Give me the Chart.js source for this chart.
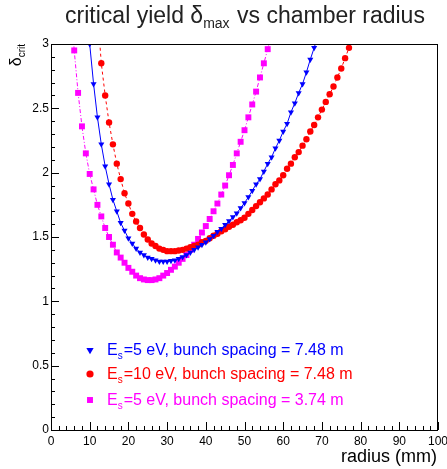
<!DOCTYPE html>
<html>
<head>
<meta charset="utf-8">
<script src="https://cdn.jsdelivr.net/npm/chart.js@4.4.1/dist/chart.umd.min.js"></script>
<style>
    html, body { margin: 0; padding: 0; background: #fff; }
    canvas { display: block; }
</style>
</head>
<body>
<canvas id="yieldChart" width="447" height="469"></canvas>
<script>
// chamber radius in mm, one point per mm
const radius = [
    5, 6, 7, 8, 9, 10, 11, 12, 13, 14, 15, 16, 17, 18, 19, 20, 21, 22, 23, 24,
    25, 26, 27, 28, 29, 30, 31, 32, 33, 34, 35, 36, 37, 38, 39, 40, 41, 42, 43, 44,
    45, 46, 47, 48, 49, 50, 51, 52, 53, 54, 55, 56, 57, 58, 59, 60, 61, 62, 63, 64,
    65, 66, 67, 68, 69, 70, 71, 72, 73, 74, 75, 76, 77, 78
];

// Es=5 eV, bunch spacing 7.48 m
const yieldBlue = [
    null, null, null, null, null, 3.00, 2.69, 2.43, 2.22, 2.05, 1.91, 1.79, 1.70, 1.61, 1.55, 1.49, 1.45, 1.41, 1.38, 1.36,
    1.34, 1.33, 1.32, 1.31, 1.31, 1.31, 1.315, 1.32, 1.33, 1.345, 1.36, 1.38, 1.40, 1.42, 1.44, 1.46, 1.485, 1.51, 1.54, 1.565,
    1.595, 1.625, 1.655, 1.685, 1.725, 1.765, 1.81, 1.86, 1.91, 1.95, 2.01, 2.07, 2.12, 2.19, 2.25, 2.32, 2.38, 2.47, 2.54, 2.62,
    2.69, 2.78, 2.88, 2.97, 3.07, null, null, null, null, null, null, null, null, null
];

// Es=10 eV, bunch spacing 7.48 m
const yieldRed = [
    null, null, null, null, null, null, null, 3.25, 2.85, 2.60, 2.39, 2.22, 2.07, 1.95, 1.84, 1.76, 1.68, 1.62, 1.57, 1.52,
    1.48, 1.45, 1.43, 1.41, 1.40, 1.39, 1.39, 1.39, 1.395, 1.40, 1.41, 1.42, 1.43, 1.44, 1.46, 1.47, 1.49, 1.51, 1.525, 1.545,
    1.56, 1.58, 1.595, 1.615, 1.63, 1.65, 1.68, 1.71, 1.74, 1.77, 1.80, 1.83, 1.87, 1.91, 1.94, 1.98, 2.03, 2.07, 2.12, 2.16,
    2.21, 2.26, 2.32, 2.37, 2.43, 2.49, 2.55, 2.61, 2.67, 2.74, 2.81, 2.89, 2.97, 3.05
];

// Es=5 eV, bunch spacing 3.74 m
const yieldMagenta = [
    3.40, 2.95, 2.62, 2.36, 2.15, 1.99, 1.87, 1.75, 1.66, 1.57, 1.50, 1.44, 1.38, 1.34, 1.30, 1.26, 1.23, 1.20, 1.18, 1.17,
    1.165, 1.165, 1.17, 1.18, 1.20, 1.22, 1.245, 1.27, 1.30, 1.33, 1.36, 1.40, 1.44, 1.485, 1.535, 1.585, 1.64, 1.70, 1.76, 1.83,
    1.90, 1.98, 2.06, 2.15, 2.24, 2.33, 2.43, 2.53, 2.63, 2.74, 2.85, 2.96, 3.08, null, null, null, null, null, null, null,
    null, null, null, null, null, null, null, null, null, null, null, null, null, null
];

const legendEnergy = ["5", "10", "5"];
const legendSpacing = ["7.48", "7.48", "3.74"];

const xTicks = [0, 10, 20, 30, 40, 50, 60, 70, 80, 90, 100];
const yTicks = [0, 0.5, 1, 1.5, 2, 2.5, 3];

const fontFamily = "'Liberation Sans', Arial, sans-serif";
const colors = { blue: "#0000ff", red: "#ff0000", magenta: "#ff00ff" };

function toPoints(values) {
    return radius
        .map((r, i) => ({ x: r, y: values[i] }))
        .filter(p => p.y !== null);
}

// draws text with a subscript part, returns end x
function drawSub(ctx, x, y, main, sub, rest, size) {
    ctx.font = `${size}px ${fontFamily}`;
    ctx.fillText(main, x, y);
    x += ctx.measureText(main).width;
    ctx.font = `${Math.round(size * 0.62)}px ${fontFamily}`;
    ctx.fillText(sub, x, y + size * 0.22);
    x += ctx.measureText(sub).width + 1;
    ctx.font = `${size}px ${fontFamily}`;
    ctx.fillText(rest, x, y);
    return x + ctx.measureText(rest).width;
}

function subWidth(ctx, main, sub, rest, size) {
    ctx.font = `${size}px ${fontFamily}`;
    let w = ctx.measureText(main).width + ctx.measureText(rest).width;
    ctx.font = `${Math.round(size * 0.62)}px ${fontFamily}`;
    return w + ctx.measureText(sub).width + 1;
}

const rootStyle = {
    id: "rootStyle",
    afterDraw(chart) {
        const { ctx, chartArea: a, scales: { x, y } } = chart;
        ctx.save();

        // frame
        ctx.strokeStyle = "#000";
        ctx.lineWidth = 1;
        ctx.strokeRect(a.left + 0.5, a.top + 0.5, a.right - a.left - 1, a.bottom - a.top);

        // ticks, pointing inward
        ctx.beginPath();
        for (let v = 0; v <= 100; v += 2) {
            const px = Math.round(x.getPixelForValue(v)) + 0.5;
            const len = v % 10 === 0 ? 8 : 4;
            ctx.moveTo(px, a.bottom);
            ctx.lineTo(px, a.bottom - len);
        }
        for (let k = 0; k <= 30; k++) {
            const py = Math.round(y.getPixelForValue(k / 10)) + 0.5;
            const len = k % 5 === 0 ? 8 : 4;
            ctx.moveTo(a.left, py);
            ctx.lineTo(a.left + len, py);
        }
        ctx.stroke();

        // title
        ctx.fillStyle = "#222";
        ctx.textBaseline = "alphabetic";
        ctx.textAlign = "left";
        const tSize = 23;
        const tw = subWidth(ctx, "critical yield \u03b4", "max", " vs chamber radius", tSize);
        drawSub(ctx, 245 - tw / 2, 23, "critical yield \u03b4", "max", " vs chamber radius", tSize);

        // x axis title
        ctx.fillStyle = "#000";
        ctx.font = `18px ${fontFamily}`;
        ctx.textAlign = "right";
        ctx.fillText("radius (mm)", a.right - 1, 462);

        // y axis title, rotated
        ctx.save();
        ctx.translate(21, a.top - 1);
        ctx.rotate(-Math.PI / 2);
        ctx.textAlign = "left";
        const yw = subWidth(ctx, "\u03b4", "crit", "", 16);
        drawSub(ctx, -yw, 0, "\u03b4", "crit", "", 16);
        ctx.restore();

        // legend
        const entries = [
            { color: colors.blue, style: "triangle", rot: 180, r: 4.2 },
            { color: colors.red, style: "circle", rot: 0, r: 3.6 },
            { color: colors.magenta, style: "rect", rot: 0, r: 4.2 }
        ];
        const rowsY = [350, 374, 400];
        ctx.textAlign = "left";
        entries.forEach((e, i) => {
            ctx.fillStyle = e.color;
            Chart.helpers.drawPoint(ctx, { pointStyle: e.style, rotation: e.rot, radius: e.r, borderWidth: 0 }, 90, rowsY[i]);
            drawSub(ctx, 107, rowsY[i] + 5, "E", "s",
                `=${legendEnergy[i]} eV, bunch spacing = ${legendSpacing[i]} m`, 16);
        });

        ctx.restore();
    }
};

const tickFont = { family: fontFamily, size: 12 };

new Chart(document.getElementById("yieldChart"), {
    type: "scatter",
    data: {
        datasets: [
            {
                label: "Es=5 eV, bunch spacing = 7.48 m",
                data: toPoints(yieldBlue),
                showLine: true,
                borderColor: colors.blue,
                backgroundColor: colors.blue,
                borderWidth: 1,
                pointStyle: "triangle",
                pointRotation: 180,
                pointRadius: 3.5,
                pointBorderWidth: 0
            },
            {
                label: "Es=10 eV, bunch spacing = 7.48 m",
                data: toPoints(yieldRed),
                showLine: true,
                borderColor: colors.red,
                backgroundColor: colors.red,
                borderWidth: 1,
                borderDash: [3, 3],
                pointStyle: "circle",
                pointRadius: 3.2,
                pointBorderWidth: 0
            },
            {
                label: "Es=5 eV, bunch spacing = 3.74 m",
                data: toPoints(yieldMagenta),
                showLine: true,
                borderColor: colors.magenta,
                backgroundColor: colors.magenta,
                borderWidth: 1,
                borderDash: [4, 2, 1, 2],
                pointStyle: "rect",
                pointRadius: 4.2,
                pointBorderWidth: 0
            }
        ]
    },
    options: {
        responsive: false,
        animation: false,
        layout: { padding: { top: 44, right: 9, left: 0, bottom: 0 } },
        plugins: {
            legend: { display: false },
            tooltip: { enabled: false },
            title: { display: false }
        },
        scales: {
            x: {
                type: "linear",
                min: 0,
                max: 100,
                grid: { display: false, drawTicks: false },
                border: { display: false },
                afterBuildTicks: (s) => { s.ticks = xTicks.map(v => ({ value: v })); },
                ticks: { color: "#000", font: tickFont, padding: 4, maxRotation: 0, autoSkip: false },
                afterFit: (s) => { s.height = 39; s.paddingLeft = 0; s.paddingRight = 0; }
            },
            y: {
                type: "linear",
                min: 0,
                max: 3,
                grid: { display: false, drawTicks: false },
                border: { display: false },
                afterBuildTicks: (s) => { s.ticks = yTicks.map(v => ({ value: v })); },
                ticks: { color: "#000", font: tickFont, padding: 2, callback: (v) => String(v) },
                afterFit: (s) => { s.width = 51; s.paddingTop = 0; s.paddingBottom = 0; }
            }
        }
    },
    plugins: [rootStyle]
});
</script>
</body>
</html>
